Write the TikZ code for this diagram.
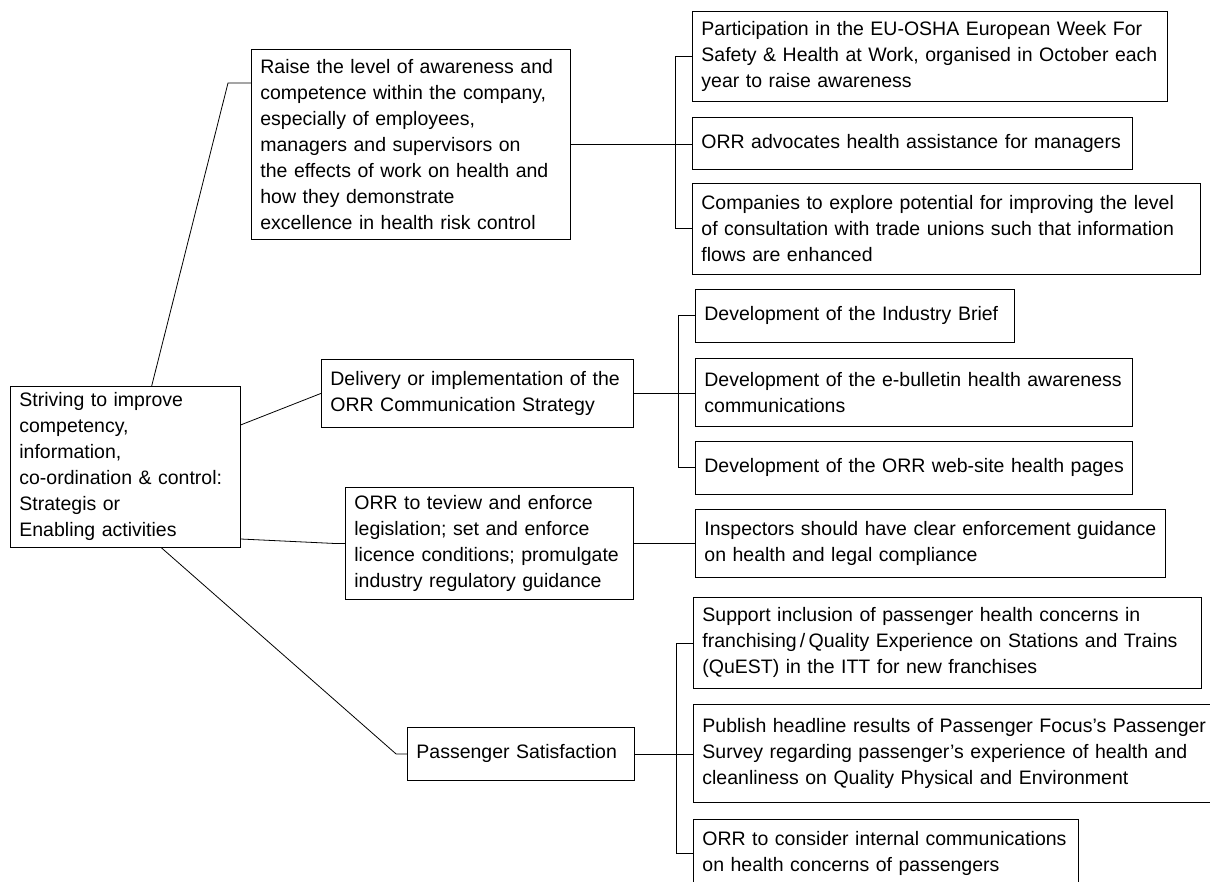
\documentclass[tikz,border=0pt]{standalone}
\usepackage{fontspec}
\setmainfont{Liberation Sans}
\usetikzlibrary{positioning}
\tikzset{
  box/.style={rectangle, draw, line width=0.8pt, anchor=north west,
              inner xsep=9pt, inner ysep=2pt, align=left,
              font=\fontsize{19.5}{26}\selectfont},
  link/.style={line width=0.8pt},
}
\begin{document}
\begin{tikzpicture}[
  x=1pt, y=-1pt,
  goal/.style={box, text width=212pt, minimum height=161pt},
  aim/.style={box},
  act/.style={box},
]
  \useasboundingbox (0,0) rectangle (1210,882);

  \node[goal] (root) at (10,386) {Striving to improve\\competency,\\information,\\co-ordination \& control:\\Strategis or\\Enabling activities};

  \node[aim, text width=301pt, minimum height=190pt] (aware) at (251,49)
    {Raise the level of awareness and\\competence within the company,\\especially of employees,\\managers and supervisors on\\the effects of work on health and\\how they demonstrate\\excellence in health risk control};
  \node[aim, text width=294pt, minimum height=68pt] (comms) at (321,359)
    {Delivery or implementation of the\\ORR Communication Strategy};
  \node[aim, text width=270pt, minimum height=112pt] (enforce) at (345,487)
    {ORR to teview and enforce\\legislation; set and enforce\\licence conditions; promulgate\\industry regulatory guidance};
  \node[aim, text width=209pt, minimum height=53pt] (pass) at (407,727)
    {Passenger Satisfaction};

  \node[act, text width=457pt, minimum height=90pt] (week) at (692,11)
    {Participation in the EU-OSHA European Week For\\Safety \& Health at Work, organised in October each\\year to raise awareness};
  \node[act, text width=422pt, minimum height=52pt, below right=15pt and 0pt of week.south west] (assist)
    {ORR advocates health assistance for managers};
  \node[act, text width=490pt, minimum height=91pt, below right=13pt and 0pt of assist.south west] (unions)
    {Companies to explore potential for improving the level\\of consultation with trade unions such that information\\flows are enhanced};

  \node[act, text width=301pt, minimum height=53pt] (brief) at (695,289)
    {Development of the Industry Brief};
  \node[act, text width=419pt, minimum height=68pt, below right=15pt and 0pt of brief.south west] (bulletin)
    {Development of the e-bulletin health awareness\\communications};
  \node[act, text width=419pt, minimum height=53pt, below right=14pt and 0pt of bulletin.south west] (web)
    {\mbox{Development of the ORR web-site health pages}};

  \node[act, text width=452pt, minimum height=68pt] (insp) at (695,509)
    {\mbox{Inspectors should have clear enforcement guidance}\\on health and legal compliance};

  \node[act, text width=490pt, minimum height=91pt] (quest) at (693,597)
    {Support inclusion of passenger health concerns in\\franchising\,/\,Quality Experience on Stations and Trains\\(QuEST) in the ITT for new franchises};
  \node[act, text width=504pt, minimum height=98pt, below right=15pt and 0pt of quest.south west] (survey)
    {Publish headline results of Passenger Focus’s Passenger\\Survey regarding passenger’s experience of health and\\cleanliness on Quality Physical and Environment};
  \node[act, text width=367pt, minimum height=68pt, below right=16pt and 0pt of survey.south west] (internal)
    {ORR to consider internal communications\\on health concerns of passengers};

  \draw[link] (root.72) -- ([xshift=-23pt]aware.159) -- (aware.159);
  \draw[link] (root.20) -- (comms.west);
  \draw[link] (root.-32) -- ([xshift=-12pt]enforce.west) -- (enforce.west);
  \draw[link] (root.-66) -- ([xshift=-11pt]pass.west) -- (pass.west);

  \foreach \src/\first/\mid/\last in {aware/week/assist/unions, comms/brief/bulletin/web, pass/quest/survey/internal} {
    \draw[link] (\first.west) -| ([xshift=-17pt]\last.west) -- (\last.west);
    \draw[link] (\src.east) -- (\src.east -| \mid.west);
  }
  \draw[link] (enforce.east) -- (insp.west);

\end{tikzpicture}
\end{document}
